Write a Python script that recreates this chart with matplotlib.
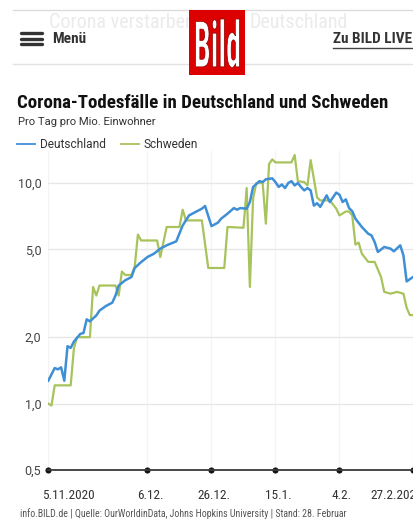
import matplotlib
matplotlib.use('Agg')
import matplotlib.pyplot as plt
import matplotlib.dates as mdates
import matplotlib.ticker as mticker
import numpy as np
from matplotlib.lines import Line2D
from matplotlib.patches import Rectangle, PathPatch
from matplotlib.textpath import TextPath
from matplotlib.font_manager import FontProperties, findfont
from matplotlib.transforms import Affine2D, ScaledTranslation

# ---------------- data ----------------
start_date = '2020-11-05'
series_names = ['Deutschland', 'Schweden']

de_days = [0, 2, 3, 4, 5, 6, 7, 8, 10, 11, 12, 13, 15, 16, 18, 20, 21, 22, 24, 26,
           27, 29, 31, 33, 35, 37, 40, 42, 43, 44, 46, 48, 49, 51, 53, 54, 56, 58, 59, 60,
           62, 63, 64, 66, 67, 68, 70, 71, 72, 73, 74, 75, 76, 77, 78, 79, 80, 81, 82, 83,
           84, 85, 87, 88, 90, 91, 92, 93, 94, 95, 96, 98, 100, 101, 102, 103, 105, 107,
           108, 110, 111, 112, 114]
de_values = [1.27, 1.45, 1.43, 1.46, 1.27, 1.82, 1.79, 1.91, 2.07, 2.09, 2.41, 2.36, 2.51,
             2.64, 2.77, 2.87, 3.09, 3.43, 3.62, 3.75, 4.12, 4.38, 4.62, 4.78, 5.04, 5.22,
             5.44, 6.42, 6.77, 7.13, 7.39, 7.65, 7.87, 6.38, 6.61, 6.89, 7.26, 7.70, 7.57,
             7.70, 7.65, 8.20, 9.59, 10.2, 10.1, 10.4, 10.5, 10.1, 9.6, 9.85, 9.49, 10.0,
             10.2, 9.75, 10.0, 9.59, 9.26, 9.49, 9.26, 7.9, 8.1, 7.8, 8.79, 8.2, 9.05, 8.85,
             8.2, 8.43, 7.7, 7.45, 6.89, 6.32, 5.89, 5.79, 5.40, 4.87, 5.13, 5.04, 4.90,
             5.22, 4.70, 3.58, 3.75]

se_days = [0, 1, 2, 7, 8, 9, 13, 14, 15, 16, 21, 22, 23, 24, 26, 27, 28, 29, 34, 35,
           37, 41, 42, 43, 48, 50, 55, 56, 61, 62, 63, 64, 65, 67, 68, 69, 70, 71, 76, 77,
           78, 80, 81, 82, 84, 85, 88, 90, 91, 93, 94, 95, 96, 97, 98, 100, 102, 104, 105,
           107, 109, 111, 112, 113, 114]
se_values = [1.0, 0.98, 1.21, 1.21, 1.78, 2.0, 2.0, 3.38, 3.09, 3.43, 3.43, 3.09, 3.97,
             3.83, 3.83, 4.17, 5.84, 5.49, 5.49, 4.62, 6.32, 6.32, 7.57, 6.77, 6.77, 4.12,
             4.12, 6.32, 6.27, 9.49, 3.38, 8.48, 10.0, 10.0, 6.54, 12.2, 12.8, 12.4, 12.4,
             13.4, 10.2, 10.1, 9.75, 12.7, 8.6, 8.34, 8.34, 7.65, 7.13, 7.43, 7.43, 7.13,
             5.26, 5.37, 4.78, 4.39, 4.39, 3.75, 3.21, 3.15, 3.21, 3.15, 2.72, 2.52, 2.52]

xtick_dates = ['2020-11-05', '2020-12-06', '2020-12-26', '2021-01-15', '2021-02-04', '2021-02-27']
xtick_labels = ['5.11.2020', '6.12.', '26.12.', '15.1.', '4.2.', '27.2.2021']
ytick_values = [0.5, 1.0, 2.0, 5.0, 10.0]
ytick_labels = ['0,5', '1,0', '2,0', '5,0', '10,0']

title = 'Corona-Todesfälle in Deutschland und Schweden'
subtitle = 'Pro Tag pro Mio. Einwohner'
footer = 'info.BILD.de | Quelle: OurWorldinData, Johns Hopkins University | Stand: 28. Februar'

BLUE = '#3f8fd6'
GREEN = '#a8c35c'


def pick(cands):
    for c in cands:
        try:
            findfont(FontProperties(family=c), fallback_to_default=False)
            return [c, 'DejaVu Sans']
        except Exception:
            pass
    return ['DejaVu Sans']


NARROW = pick(['Liberation Sans Narrow', 'Roboto Condensed', 'DejaVu Sans Condensed', 'Roboto'])
SANS = pick(['Roboto', 'Lato', 'DejaVu Sans'])

W, H = 414, 519
fig = plt.figure(figsize=(W / 100, H / 100), dpi=100)
fig.patch.set_facecolor('white')


def fx(x):
    return x / W


def fy(y):
    return 1 - y / H


# ---------------- header ----------------
fig.add_artist(Line2D([fx(13), fx(414)], [fy(10), fy(10)], color='#dcdcdc', lw=1))
fig.add_artist(Line2D([fx(13), fx(414)], [fy(64), fy(64)], color='#e2e2e2', lw=1))
fig.text(fx(49), fy(23), 'Corona verstarben', color='#ebebeb', fontsize=14.5,
         family=NARROW, va='center', ha='left')
fig.text(fx(250), fy(23), 'Deutschland', color='#ebebeb', fontsize=14.5,
         family=NARROW, va='center', ha='left')
for yb in (33, 38.7, 44.3):
    fig.add_artist(Line2D([fx(21), fx(42)], [fy(yb), fy(yb)], color='#333333', lw=2.4,
                          solid_capstyle='round'))
fig.text(fx(52), fy(39), 'Menü', color='#333333', fontsize=11, family=NARROW,
         weight='bold', va='center', ha='left')
fig.text(fx(333), fy(39), 'Zu BILD LIVE', color='#333333', fontsize=11, family=NARROW,
         weight='bold', va='center', ha='left')
fig.add_artist(Line2D([fx(333), fx(414)], [fy(47.5), fy(47.5)], color='#444444', lw=1))

# logo
fig.add_artist(Rectangle((fx(189.3), fy(75)), fx(245) - fx(189.3), fy(10) - fy(75),
                         transform=fig.transFigure, facecolor='#dd0000', edgecolor='none',
                         zorder=5))
tp = TextPath((0, 0), 'Bild', size=20, prop=FontProperties(family=NARROW[0], weight='bold'))
ext = tp.get_extents()
lx0, lx1, ly0, ly1 = 195.5, 239.5, 19, 67.5
tr = (Affine2D().translate(-ext.x0, -ext.y0)
      .scale((lx1 - lx0) / ext.width, (ly1 - ly0) / ext.height)
      .translate(lx0, H - ly1)
      .scale(1 / W, 1 / H)) + fig.transFigure
fig.add_artist(PathPatch(tp, transform=tr, facecolor='white', edgecolor='#8a0000',
                         lw=0.5, zorder=6))

# ---------------- titles ----------------
fig.text(fx(17.5), fy(102.5), title, fontsize=13.6, family=NARROW, weight='bold',
         color='#111111', va='center', ha='left')
fig.text(fx(18), fy(122), subtitle, fontsize=8.1, family=SANS, color='#333333',
         va='center', ha='left')

# ---------------- chart ----------------
ax = fig.add_axes([fx(48.3), fy(470), 1 - fx(48.3), (470 - 150.8) / H])
start = np.datetime64(start_date)
de_dates = start + np.array(de_days).astype('timedelta64[D]')
se_dates = start + np.array(se_days).astype('timedelta64[D]')

l_se, = ax.plot(se_dates, se_values, color=GREEN, lw=1.6, zorder=3)
l_de, = ax.plot(de_dates, de_values, color=BLUE, lw=1.8, zorder=4)

ax.set_yscale('log')
ax.set_ylim(0.5, 14)
x0 = mdates.date2num(start)
ax.set_xlim(x0, x0 + 114.3)

ax.yaxis.set_major_locator(mticker.FixedLocator(ytick_values))
ax.yaxis.set_major_formatter(mticker.FixedFormatter(ytick_labels))
ax.yaxis.set_minor_locator(mticker.NullLocator())
tick_nums = [mdates.date2num(np.datetime64(d)) for d in xtick_dates]
ax.set_xticks(tick_nums)
ax.set_xticklabels(xtick_labels)
ax.xaxis.set_minor_locator(mticker.NullLocator())

for s in ('top', 'right', 'left'):
    ax.spines[s].set_visible(False)
ax.spines['bottom'].set_color('#3a3a3a')
ax.spines['bottom'].set_linewidth(1.3)
ax.spines['bottom'].set_zorder(5)

ax.grid(axis='y', color='#e6e6e6', lw=0.9, zorder=0)
ax.grid(axis='x', color='#f4f4f4', lw=0.9, zorder=0)
ax.set_axisbelow(True)

ax.tick_params(axis='y', length=0, pad=5, labelsize=9, labelcolor='#444444')
ax.tick_params(axis='x', length=0, pad=14, labelsize=9.5, labelcolor='#333333')
for lab in ax.get_yticklabels():
    lab.set_family(SANS)
for lab in ax.get_xticklabels():
    lab.set_family(NARROW)

for t in ax.xaxis.get_major_ticks():
    t.tick1line.set_marker('o')
    t.tick1line.set_markersize(3.6)
    t.tick1line.set_markerfacecolor('#111111')
    t.tick1line.set_markeredgecolor('#111111')
    t.tick1line.set_clip_on(False)

xlabs = ax.get_xticklabels()
for i, lab in enumerate(xlabs):
    dx = 2.5
    if i == 0:
        lab.set_ha('left')
        dx = -6.5
    elif i == len(xlabs) - 1:
        lab.set_ha('left')
        dx = -43
    lab.set_transform(lab.get_transform() + ScaledTranslation(dx / 100, 0, fig.dpi_scale_trans))

leg = ax.legend([l_de, l_se], series_names, loc='upper left',
                bbox_to_anchor=(fx(17), fy(138.5)), bbox_transform=fig.transFigure,
                ncol=2, frameon=False, handlelength=1.5, handletextpad=0.4,
                columnspacing=1.3, borderpad=0, borderaxespad=0,
                prop=FontProperties(family=SANS, size=8.6))
for txt in leg.get_texts():
    txt.set_color('#333333')
for ln in leg.get_lines():
    ln.set_linewidth(1.3)

# ---------------- footer ----------------
fig.text(fx(20), fy(514), footer, fontsize=7.15, family=NARROW, color='#555555',
         va='center', ha='left')

fig.savefig('out.png', dpi=100)
